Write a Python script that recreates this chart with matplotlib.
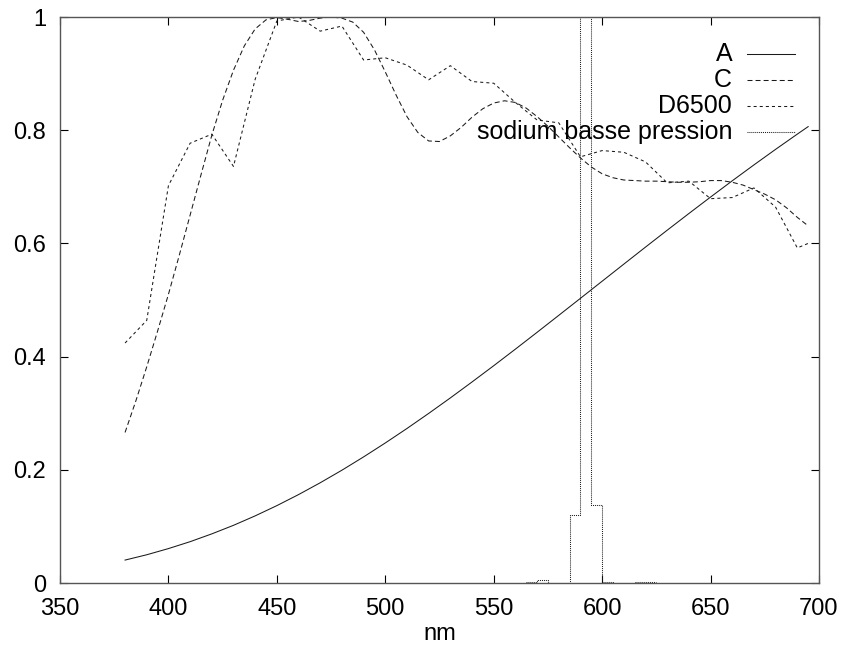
import matplotlib
matplotlib.use("Agg")
import matplotlib.pyplot as plt
from matplotlib.lines import Line2D
from matplotlib.offsetbox import AnchoredOffsetbox, VPacker, HPacker, TextArea, DrawingArea

plt.rcParams['font.family'] = ['Liberation Sans', 'DejaVu Sans']
plt.rcParams['lines.scale_dashes'] = False

# illuminant A (normalised), 10 nm steps
nm_a = [380, 390, 400, 410, 420, 430, 440, 450, 460, 470, 480, 490, 500, 510, 520,
        530, 540, 550, 560, 570, 580, 590, 600, 610, 620, 630, 640, 650, 660, 670,
        680, 690, 695]
val_a = [0.0405, 0.0499, 0.0608, 0.0730, 0.0868, 0.1019, 0.1186, 0.1367, 0.1562,
         0.1771, 0.1993, 0.2228, 0.2474, 0.2730, 0.2996, 0.3270, 0.3552, 0.3839,
         0.4132, 0.4429, 0.4729, 0.5030, 0.5332, 0.5634, 0.5935, 0.6233, 0.6528,
         0.6819, 0.7106, 0.7387, 0.7662, 0.7931, 0.8063]

# illuminant C (normalised), 5 nm steps
nm_c = list(range(380, 700, 5))
val_c = [0.266, 0.322, 0.382, 0.445, 0.510, 0.579, 0.650, 0.721, 0.791, 0.853,
         0.906, 0.949, 0.979, 0.995, 0.999, 0.996, 0.992, 0.994, 0.998, 1.000,
         0.998, 0.991, 0.973, 0.942, 0.903, 0.862, 0.824, 0.796, 0.781, 0.780,
         0.790, 0.805, 0.823, 0.838, 0.848, 0.852, 0.849, 0.839, 0.824, 0.807,
         0.788, 0.769, 0.751, 0.735, 0.723, 0.716, 0.712, 0.711, 0.710, 0.710,
         0.709, 0.708, 0.708, 0.709, 0.711, 0.711, 0.708, 0.703, 0.695, 0.687,
         0.677, 0.663, 0.646, 0.631]

# D6500 (normalised)
nm_d = [380, 390, 400, 410, 420, 430, 440, 450, 460, 470, 480, 490, 500, 510, 520,
        530, 540, 550, 560, 570, 580, 590, 600, 610, 620, 630, 640, 650, 660, 670,
        680, 690, 695]
val_d = [0.424, 0.464, 0.702, 0.777, 0.793, 0.736, 0.890, 0.993, 1.000, 0.975,
         0.984, 0.924, 0.928, 0.915, 0.889, 0.914, 0.886, 0.883, 0.849, 0.818,
         0.813, 0.753, 0.764, 0.761, 0.744, 0.707, 0.710, 0.679, 0.681, 0.698,
         0.664, 0.592, 0.600]

# low pressure sodium lamp, histogram steps
nm_na = [565, 570, 575, 580, 585, 590, 595, 600, 605, 610, 615, 620, 625]
val_na = [0.002, 0.006, 0.0, 0.0, 0.12, 8.0, 0.137, 0.002, 0.0, 0.0, 0.002, 0.002, 0.002]

labels = ['A', 'C', 'D6500', 'sodium basse pression']
styles = ['-', (0, (3.6, 2.2)), (0, (2.2, 2.2)), (0, (0.7, 0.7))]

x_ticks = [350, 400, 450, 500, 550, 600, 650, 700]
y_ticks = [0, 0.2, 0.4, 0.6, 0.8, 1]
y_ticklabels = ['0', '0.2', '0.4', '0.6', '0.8', '1']

fig = plt.figure(figsize=(8.45, 6.48), dpi=100)
ax = fig.add_axes([60 / 845, 65 / 648, 759 / 845, 566 / 648])

lw = 0.75
col = '#1a1a1a'
ax.plot(nm_a, val_a, color=col, lw=lw, linestyle=styles[0])
ax.plot(nm_c, val_c, color=col, lw=lw, linestyle=styles[1])
ax.plot(nm_d, val_d, color=col, lw=lw, linestyle=styles[2])
ax.step(nm_na, val_na, where='post', color=col, lw=lw, linestyle=styles[3])

ax.set_xlim(350, 700)
ax.set_ylim(0, 1)
ax.set_xticks(x_ticks)
ax.set_yticks(y_ticks)
ax.set_yticklabels(y_ticklabels)
ax.tick_params(direction='in', length=6, width=0.8, top=True, right=True,
               labelsize=17, color='black')
ax.tick_params(axis='x', pad=11)
ax.tick_params(axis='y', pad=10)
for s in ax.spines.values():
    s.set_color('#555555')
    s.set_linewidth(1.0)
ax.set_xlabel('nm', fontsize=17, labelpad=2)

# gnuplot style key: labels right aligned, sample to the right
rows = []
for lab, ls in zip(labels, styles):
    da = DrawingArea(34, 10, 0, 0)
    da.add_artist(Line2D([0, 34], [5, 5], color=col, lw=lw, linestyle=ls))
    rows.append(HPacker(children=[TextArea(lab, textprops=dict(fontsize=18)), da],
                        align='center', pad=0, sep=11))
key = VPacker(children=rows, align='right', pad=0, sep=1.5)
anchored = AnchoredOffsetbox(loc='upper right', child=key, frameon=False,
                             bbox_to_anchor=(0.968, 0.956), bbox_transform=ax.transAxes,
                             borderpad=0, pad=0)
ax.add_artist(anchored)

fig.savefig('out.png', dpi=100)
